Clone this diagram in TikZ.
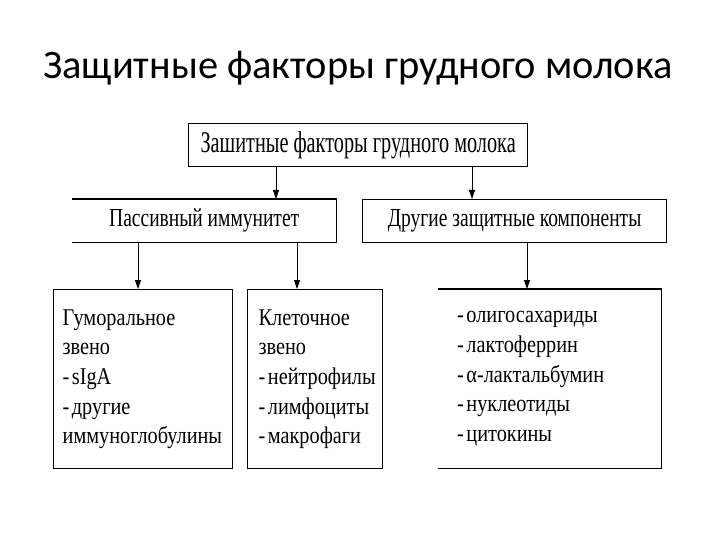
\documentclass[tikz,border=0pt]{standalone}
\usepackage{fontspec}
\setmainfont{Liberation Serif}
\newfontfamily\mytitlefont{Carlito}
\newfontfamily\mytopfont[FakeStretch=0.676]{Liberation Serif}
\newfontfamily\mymidfont[FakeStretch=0.75]{Liberation Serif}
\newfontfamily\mylistfont[FakeStretch=0.845]{Liberation Serif}
\usetikzlibrary{arrows.meta}
\tikzset{
  boxline/.style={line width=1.3pt, black},
  box/.style={draw, boxline, inner sep=0pt, anchor=north west},
  openbox/.style={inner sep=0pt, anchor=north west},
  arr/.style={line width=0.8pt, -{Triangle[length=9pt,width=6pt]}},
  toptext/.style={font=\mytopfont\fontsize{30}{32}\selectfont},
  midtext/.style={font=\mymidfont\fontsize{26}{28}\selectfont},
  listtext/.style={font=\mylistfont\fontsize{24}{29.7}\selectfont, align=left}
}
\newcommand{\dl}[1]{\mbox{-\hspace{2.5pt}#1}}
\begin{document}
\begin{tikzpicture}[x=1pt,y=-1pt]
\useasboundingbox (0,0) rectangle (720,540);
\fill[white] (0,0) rectangle (720,540);
% title
\node[font=\mytitlefont\fontsize{40.4}{44}\selectfont, anchor=base] (title) at (358,79) {Защитные факторы грудного молока};
% top box
\node[box, toptext, minimum width=339, minimum height=43] (top) at (188,123) {Зашитные факторы грудного молока};
% middle boxes
\node[openbox, midtext, minimum width=264, minimum height=43] (pass) at (72,199) {Пассивный иммунитет};
\draw[boxline] (pass.north west) -- (pass.north east) -- (pass.south east) -- (pass.south west);
\node[box, midtext, minimum width=304, minimum height=43] (other) at (362,199) {Другие защитные компоненты};
% bottom boxes
\node[box, listtext, minimum width=179, minimum height=179, text width=161] (hum) at (53,289)
  {Гуморальное\\звено\\\dl{sIgA}\\\dl{другие}\\иммуноглобулины};
\node[box, listtext, minimum width=135, minimum height=179, text width=113] (cell) at (247,289)
  {Клеточное\\звено\\\dl{нейтрофилы}\\\dl{лимфоциты}\\\dl{макрофаги}};
\node[openbox, listtext, minimum width=223, minimum height=179, text width=185] (comp) at (438,289)
  {\dl{олигосахариды}\\\dl{лактоферрин}\\\dl{α-лактальбумин}\\\dl{нуклеотиды}\\\dl{цитокины}};
\draw[boxline] (comp.north west) -- (comp.north east) -- (comp.south east) -- (comp.south west);
% arrows
\draw[arr] (top.south -| 276,0) -- (pass.north -| 276,0);
\draw[arr] (top.south -| 472,0) -- (other.north -| 472,0);
\draw[arr] (pass.south -| 138,0) -- (hum.north -| 138,0);
\draw[arr] (pass.south -| 297,0) -- (cell.north -| 297,0);
\draw[arr] (other.south -| 527,0) -- (comp.north -| 527,0);
\end{tikzpicture}
\end{document}
